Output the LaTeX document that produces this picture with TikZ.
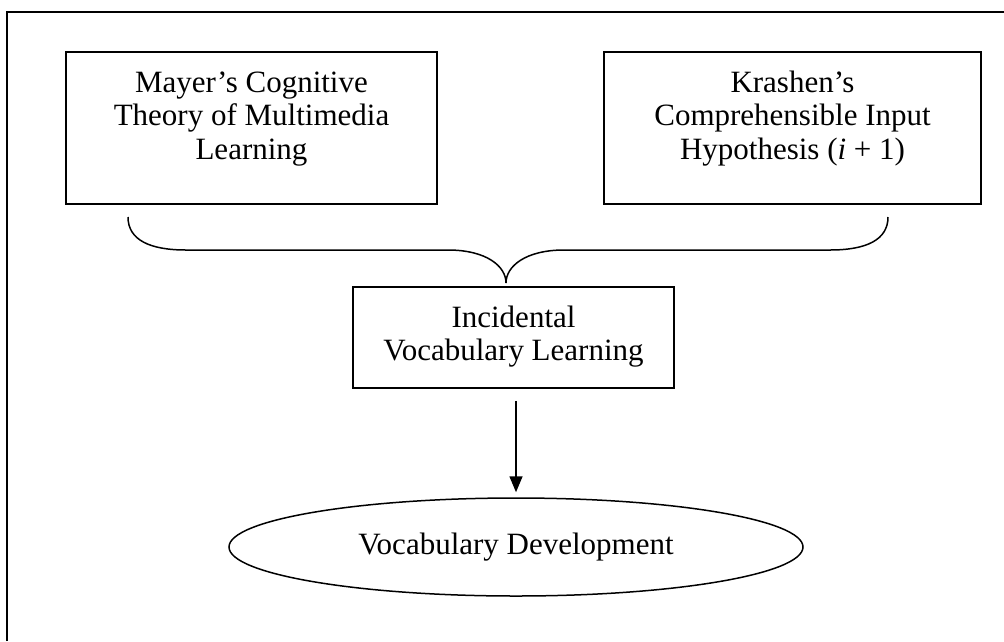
\documentclass[tikz,border=0pt]{standalone}
\usepackage{fontspec}
\setmainfont{Liberation Serif}
\usetikzlibrary{arrows.meta,shapes.geometric,calc}
\begin{document}
\begin{tikzpicture}[x=1pt,y=1pt,
  ln/.style={line width=1.5pt},
  theorybox/.style={draw, ln, minimum height=152pt, inner sep=0pt},
  lbl/.style={font=\fontsize{31}{33.5}\selectfont, inner sep=0pt},
  midbox/.style={draw, ln, minimum width=321pt, minimum height=101pt, inner sep=0pt, font=\fontsize{31}{33.5}\selectfont},
  devshape/.style={draw, ln, ellipse, minimum width=574pt, minimum height=98pt, inner sep=0pt, font=\fontsize{31}{33.5}\selectfont},
  arrowline/.style={ln, -{Triangle[length=16pt,width=13pt]}}]
\useasboundingbox (0,0) rectangle (1004,-641);
% outer frame (only left and top edges visible)
\draw[ln] (7,-641) -- (7,-12) -- (1004,-12);
% theory boxes
\node[theorybox, minimum width=371pt] (mayer) at (251.5,-128) {};
\node[lbl] (mayertext) at (251.5,-118.8) {\begin{tabular}{@{}c@{}}Mayer’s Cognitive\\Theory of Multimedia\\Learning\end{tabular}};
\node[theorybox, minimum width=377pt] (krashen) at (792.5,-128) {};
\node[lbl] (krashentext) at (792.5,-118.8) {\begin{tabular}{@{}c@{}}Krashen’s\\Comprehensible Input\\Hypothesis (\textit{i} + 1)\end{tabular}};
% incidental learning box
\node[midbox] (mid) at (513.5,-337.5) {\begin{tabular}{@{}c@{}}Incidental\\Vocabulary Learning\end{tabular}};
% brace
\coordinate (braceL) at (128,-217);
\coordinate (braceR) at (888,-217);
\coordinate (cusp) at (506,-283);
\draw[ln] (braceL) .. controls (128,-240) and (150,-250) .. (186,-250)
  -- (448,-250) .. controls (486,-250) and (506,-266) .. (cusp)
  .. controls (506,-266) and (526,-250) .. (564,-250)
  -- (830,-250) .. controls (866,-250) and (888,-240) .. (braceR);
% outcome
\node[devshape] (dev) at (516,-547) {Vocabulary Development};
\draw[arrowline] ($(mid.south)+(2.5,-12)$) -- ($(dev.north)+(0,5)$);
\end{tikzpicture}
\end{document}
